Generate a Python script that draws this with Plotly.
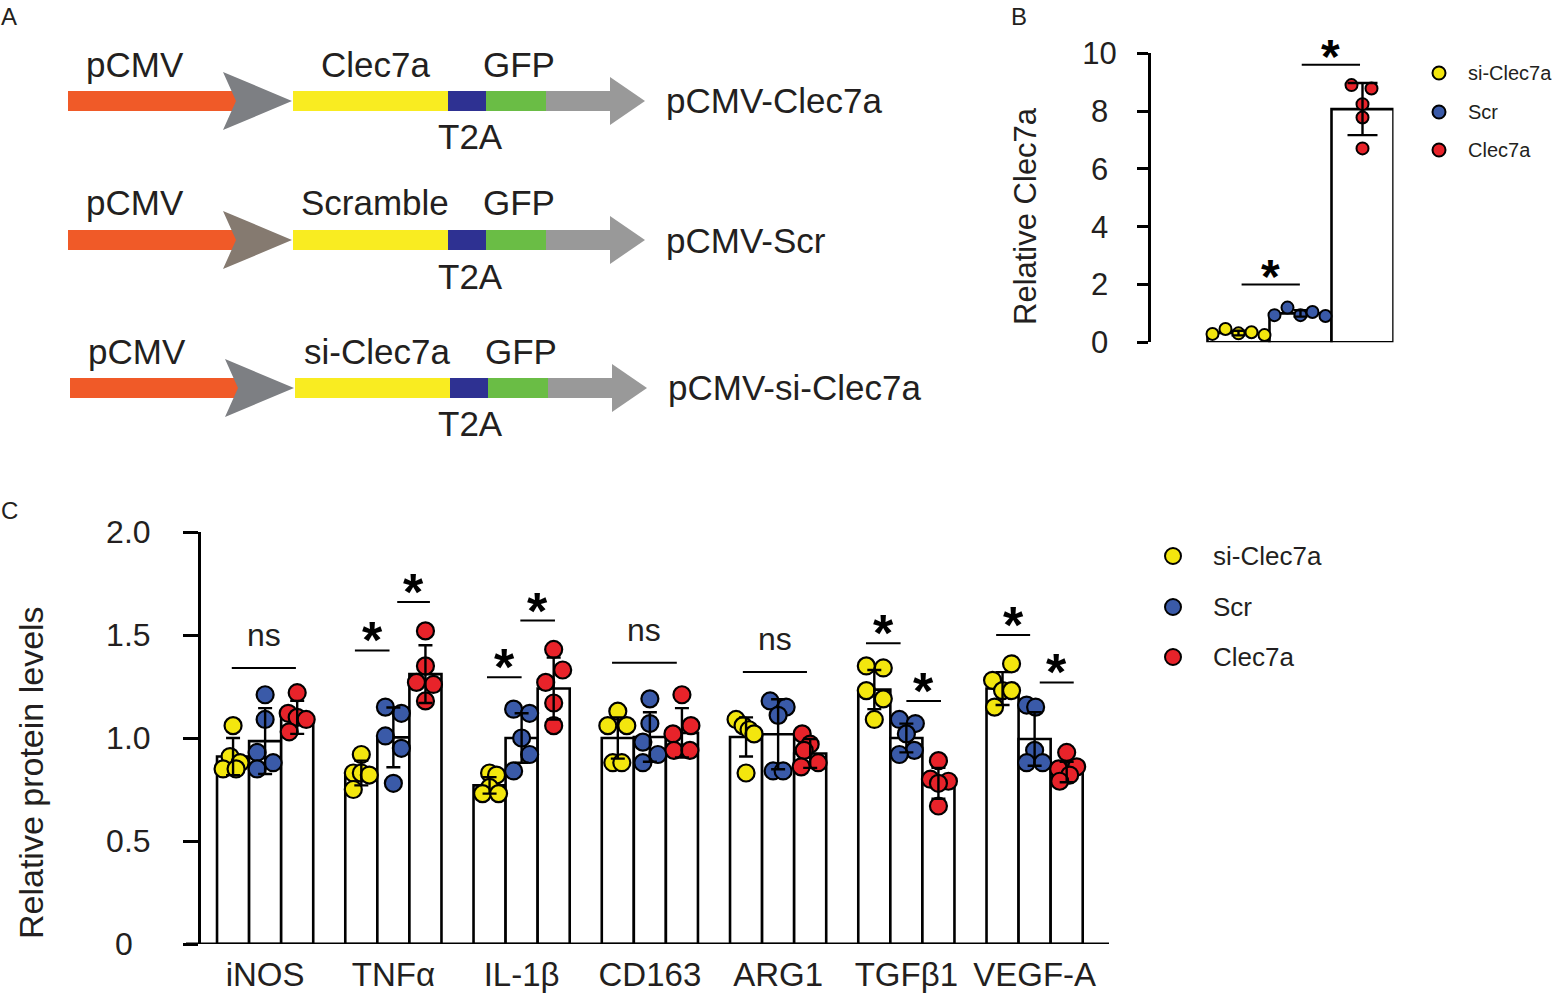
import plotly.graph_objects as go

W, H = 1554, 997
FONT = "Arial, 'Liberation Sans', Helvetica, sans-serif"

# ---------------- data ----------------
CATEGORIES = ["iNOS", "TNFα", "IL-1β", "CD163", "ARG1", "TGFβ1", "VEGF-A"]
GROUPS = ["si-Clec7a", "Scr", "Clec7a"]

# Panel C: bar means (relative protein levels)
C_MEAN_SI = [0.91, 0.83, 0.77, 1.00, 1.005, 1.235, 1.24]
C_MEAN_SCR = [0.985, 1.003, 1.0, 1.005, 1.018, 1.0, 0.995]
C_MEAN_CLEC = [1.10, 1.31, 1.24, 1.025, 0.925, 0.78, 0.835]
# Panel C: error (SD)
C_SD_SI = [0.09, 0.06, 0.04, 0.10, 0.095, 0.095, 0.08]
C_SD_SCR = [0.16, 0.145, 0.12, 0.12, 0.17, 0.07, 0.13]
C_SD_CLEC = [0.08, 0.14, 0.15, 0.12, 0.07, 0.075, 0.05]
# Panel C: individual points
C_PTS_SI = [
    [1.06, 0.91, 0.88, 0.85, 0.85],
    [0.92, 0.83, 0.83, 0.82, 0.75],
    [0.83, 0.82, 0.76, 0.73, 0.73],
    [1.13, 1.06, 1.06, 0.88, 0.88],
    [1.09, 1.06, 1.04, 1.02, 0.83],
    [1.35, 1.34, 1.23, 1.19, 1.09],
    [1.36, 1.28, 1.23, 1.23, 1.15],
]
C_PTS_SCR = [
    [1.21, 1.09, 0.93, 0.88, 0.85],
    [1.15, 1.12, 1.01, 0.95, 0.78],
    [1.14, 1.12, 1.00, 0.92, 0.84],
    [1.19, 1.07, 0.98, 0.92, 0.88],
    [1.18, 1.15, 1.11, 0.84, 0.84],
    [1.09, 1.07, 1.02, 0.94, 0.92],
    [1.16, 1.15, 0.94, 0.88, 0.88],
]
C_PTS_CLEC = [
    [1.22, 1.12, 1.10, 1.09, 1.03],
    [1.52, 1.35, 1.27, 1.26, 1.18],
    [1.43, 1.33, 1.27, 1.17, 1.06],
    [1.21, 1.06, 1.02, 0.94, 0.94],
    [1.02, 0.97, 0.94, 0.88, 0.86],
    [0.89, 0.80, 0.79, 0.78, 0.67],
    [0.93, 0.86, 0.85, 0.82, 0.79],
]
# Panel C significance: (category, left, right, level, label)
C_SIG = [
    (0, -0.26, 0.24, 1.34, "ns"),
    (1, -0.30, -0.03, 1.425, "*"),
    (1, 0.03, 0.285, 1.66, "*"),
    (2, -0.27, 0.0, 1.295, "*"),
    (2, -0.01, 0.26, 1.57, "*"),
    (3, -0.295, 0.21, 1.365, "ns"),
    (4, -0.275, 0.225, 1.32, "ns"),
    (5, -0.315, -0.045, 1.46, "*"),
    (5, 0.0, 0.27, 1.18, "*"),
    (6, -0.30, -0.035, 1.50, "*"),
    (6, 0.04, 0.305, 1.27, "*"),
]

# Panel B: relative Clec7a
B_MEAN = [0.32, 1.0, 8.07]
B_SD = [0.08, 0.11, 0.90]
B_PTS = [
    [0.29, 0.46, 0.31, 0.35, 0.25],
    [0.94, 1.20, 0.94, 1.05, 0.91],
    [8.90, 8.78, 8.24, 7.78, 6.71],
]
B_SIG = [(0.05, 0.99, 2.0, "*"), (1.02, 1.96, 9.6, "*")]

# ---------------- styling / layout positions ----------------
DOT_COLORS = ["#f3e60e", "#3a5aa8", "#e8232a"]
BW = 0.25                      # bar width in category units (panel C)
C_UNIT_PX = 128.3              # pixels per category in panel C
# horizontal jitter of points (pixels)
C_JIT_SI = [[0, -3, 7, -10, 3], [0, -8, 0, 8, -8], [0, 7, 0, -7, 9], [0, -10, 9, -5, 4],
            [-10, -3, 3, 8, 0], [-8, 9, -8, 9, 0], [9, -10, 0, 9, -8]]
C_JIT_SCR = [[0, 0, -8, 8, -8], [-8, 8, -8, 8, 0], [-8, 8, 0, 8, -8], [0, 0, -7, 8, -7],
             [-8, 8, 0, -5, 5], [-7, 9, 0, 8, -7], [-8, 1, 0, -8, 8]]
C_JIT_CLEC = [[0, -9, 0, 9, -8], [0, 0, -9, 8, 0], [0, 9, -8, 0, 0], [0, 9, -9, -8, 8],
              [-8, 0, -6, 8, -9], [0, -8, 10, 0, 0], [0, 10, -8, 3, -7]]
B_UNIT_PX = 62.0
B_JIT = [[-26, -13, 0, 13, 26], [-26, -13, 0, 12, 25], [-11, 9, 0, 0, 0]]


def px(x):
    return x / W


def py(y):
    return 1 - y / H


fig = go.Figure()

C_MEANS = [C_MEAN_SI, C_MEAN_SCR, C_MEAN_CLEC]
C_SDS = [C_SD_SI, C_SD_SCR, C_SD_CLEC]
C_PTS = [C_PTS_SI, C_PTS_SCR, C_PTS_CLEC]
C_JIT = [C_JIT_SI, C_JIT_SCR, C_JIT_CLEC]

# ---- Panel C bars
for g in range(3):
    fig.add_trace(go.Bar(
        x=[i + (g - 1) * BW for i in range(len(CATEGORIES))], y=C_MEANS[g], width=BW,
        marker=dict(color="white", line=dict(color="black", width=2.6)),
        xaxis="x", yaxis="y", showlegend=False, name=GROUPS[g]))
# ---- Panel C points
for g in range(3):
    xs, ys = [], []
    for i in range(len(CATEGORIES)):
        for v, j in zip(C_PTS[g][i], C_JIT[g][i]):
            xs.append(i + (g - 1) * BW + j / C_UNIT_PX)
            ys.append(v)
    fig.add_trace(go.Scatter(
        x=xs, y=ys, mode="markers", xaxis="x", yaxis="y", showlegend=False,
        marker=dict(size=17, color=DOT_COLORS[g], line=dict(color="black", width=2.2)),
        name=GROUPS[g]))
# ---- Panel C error bars (on top)
for g in range(3):
    fig.add_trace(go.Scatter(
        x=[i + (g - 1) * BW for i in range(len(CATEGORIES))], y=C_MEANS[g],
        mode="markers", marker=dict(size=1, color="rgba(0,0,0,0)"),
        error_y=dict(type="data", array=C_SDS[g], color="black", thickness=2.4, width=7),
        xaxis="x", yaxis="y", showlegend=False, hoverinfo="skip"))

# ---- Panel B
for g in range(3):
    fig.add_trace(go.Bar(
        x=[g], y=[B_MEAN[g]], width=1.0,
        marker=dict(color="white", line=dict(color="black", width=2.6)),
        xaxis="x2", yaxis="y2", showlegend=False, name=GROUPS[g]))
for g in range(3):
    fig.add_trace(go.Scatter(
        x=[g + j / B_UNIT_PX for j in B_JIT[g]], y=B_PTS[g], mode="markers",
        marker=dict(size=12, color=DOT_COLORS[g], line=dict(color="black", width=2)),
        xaxis="x2", yaxis="y2", showlegend=False, name=GROUPS[g]))
for g in range(3):
    fig.add_trace(go.Scatter(
        x=[g], y=[B_MEAN[g]], mode="markers", marker=dict(size=1, color="rgba(0,0,0,0)"),
        error_y=dict(type="data", array=[B_SD[g]], color="black", thickness=2.4,
                     width=15 if g == 2 else 7),
        xaxis="x2", yaxis="y2", showlegend=False, hoverinfo="skip"))

shapes = []
ann = []

# panel C baseline (extends left past the y axis)
shapes.append(dict(type="line", xref="paper", yref="y", x0=px(186), x1=px(1109), y0=0, y1=0,
                   line=dict(color="black", width=3)))


def star(x, y, xref, yref, size, shift):
    ann.append(dict(x=x, y=y, xref=xref, yref=yref, text="<b>*</b>", showarrow=False,
                    xanchor="center", yanchor="middle", yshift=shift,
                    font=dict(size=size, color="black", family=FONT)))


# significance marks, panel C
for cat, l, r, lev, lab in C_SIG:
    shapes.append(dict(type="line", xref="x", yref="y", x0=cat + l, x1=cat + r, y0=lev, y1=lev,
                       line=dict(color="black", width=2)))
    if lab == "*":
        star(cat + (l + r) / 2, lev, "x", "y", 52, 10)
    else:
        ann.append(dict(x=cat + (l + r) / 2, y=lev, xref="x", yref="y", text="ns", showarrow=False,
                        xanchor="center", yanchor="middle", yshift=33,
                        font=dict(size=32, color="#231f20", family=FONT)))
for l, r, lev, lab in B_SIG:
    shapes.append(dict(type="line", xref="x2", yref="y2", x0=l, x1=r, y0=lev, y1=lev,
                       line=dict(color="black", width=2)))
    star((l + r) / 2, lev, "x2", "y2", 48, 8)


# legends (C and B)
def legend(x_dot, ys, diam, x_text, fsize):
    for g in range(3):
        shapes.append(dict(type="circle", xref="paper", yref="paper",
                           x0=px(x_dot - diam / 2), x1=px(x_dot + diam / 2),
                           y0=py(ys[g] + diam / 2), y1=py(ys[g] - diam / 2),
                           fillcolor=DOT_COLORS[g], line=dict(color="black", width=2)))
        ann.append(dict(x=px(x_text), y=py(ys[g]), xref="paper", yref="paper", text=GROUPS[g],
                        showarrow=False, xanchor="left", yanchor="middle",
                        font=dict(size=fsize, color="#231f20", family=FONT)))


legend(1173, [556, 607, 657], 16, 1211, 26)
legend(1439, [73, 112, 150], 13, 1466, 20)


def text(x, y, s, size, anchor="center", angle=0):
    ann.append(dict(x=px(x), y=py(y), xref="paper", yref="paper", text=s, showarrow=False,
                    xanchor=anchor, yanchor="middle", textangle=angle,
                    font=dict(size=size, color="#231f20", family=FONT)))


# axis titles
text(31, 773, "Relative protein levels", 34, angle=-90)
text(1025, 216, "Relative Clec7a", 31, angle=-90)

# panel letters
for letter, x, y in [("A", 9, 16), ("B", 1019, 17), ("C", 9, 510)]:
    text(x, y, letter, 24)

# ---- Panel A: construct diagrams
ROWS = [
    dict(y=101, insert="Clec7a", name="pCMV-Clec7a", head="#7d7f83", dx=0),
    dict(y=240, insert="Scramble", name="pCMV-Scr", head="#857a70", dx=0),
    dict(y=388, insert="si-Clec7a", name="pCMV-si-Clec7a", head="#7d7f83", dx=2),
]


def rect(x0, x1, yc, hh, color):
    shapes.append(dict(type="rect", xref="paper", yref="paper", x0=px(x0), x1=px(x1),
                       y0=py(yc + hh), y1=py(yc - hh), fillcolor=color, line=dict(width=0)))


def poly(pts, color):
    path = "M " + " L ".join(f"{px(a):.5f},{py(b):.5f}" for a, b in pts) + " Z"
    shapes.append(dict(type="path", xref="paper", yref="paper", path=path, fillcolor=color,
                       line=dict(width=0)))


for r in ROWS:
    yc, d = r["y"], r["dx"]
    rect(68 + d, 238 + d, yc, 10, "#f05a28")
    poly([(223 + d, yc - 29), (292 + d, yc), (223 + d, yc + 29), (236 + d, yc)], r["head"])
    rect(293 + d, 448 + d, yc, 10, "#f9ec21")
    rect(448 + d, 486 + d, yc, 10, "#2e3192")
    rect(486 + d, 546 + d, yc, 10, "#6abd45")
    rect(546 + d, 611 + d, yc, 10, "#999999")
    poly([(610 + d, yc - 24), (645 + d, yc), (610 + d, yc + 24)], "#999999")
    text(135 + d, yc - 37, "pCMV", 35)
    text(375 + d, yc - 37, r["insert"], 35)
    text(519 + d, yc - 37, "GFP", 35)
    text(470, yc + 36, "T2A", 35)
    text(664 + d, yc, r["name"], 35, anchor="left")

fig.update_layout(
    width=W, height=H, margin=dict(l=0, r=0, t=0, b=0, pad=0, autoexpand=False), autosize=False,
    paper_bgcolor="white", plot_bgcolor="white", barmode="overlay",
    font=dict(family=FONT, color="#231f20"),
    shapes=shapes, annotations=ann, showlegend=False,
    xaxis=dict(domain=[px(201), px(1109)], range=[-0.5, 6.58], anchor="y", automargin=False,
               tickvals=list(range(len(CATEGORIES))), ticktext=CATEGORIES,
               tickfont=dict(size=33, color="#231f20"), ticks="", showline=False,
               showgrid=False, zeroline=False, ticklabelstandoff=8, fixedrange=True),
    yaxis=dict(domain=[py(944), py(532)], range=[0, 2.0], anchor="x", automargin=False,
               tickvals=[0, 0.5, 1.0, 1.5, 2.0],
               ticktext=["0\u00a0\u00a0", "0.5", "1.0", "1.5", "2.0"],
               ticks="outside", ticklen=15, tickwidth=3, tickcolor="black",
               showline=True, linewidth=3, linecolor="black", showgrid=False, zeroline=False,
               tickfont=dict(size=32, color="#231f20"), ticklabelstandoff=26, fixedrange=True),
    xaxis2=dict(domain=[px(1151), px(1393.5)], range=[-1.411, 2.5], anchor="y2",
                automargin=False, visible=False, fixedrange=True),
    yaxis2=dict(domain=[py(342.3), py(53.3)], range=[0, 10], anchor="x2", automargin=False,
                tickvals=[0, 2, 4, 6, 8, 10],
                ticktext=["0\u00a0", "2\u00a0", "4\u00a0", "6\u00a0", "8\u00a0", "10"],
                ticks="outside", ticklen=11, tickwidth=3, tickcolor="black",
                showline=True, linewidth=3, linecolor="black", showgrid=False, zeroline=False,
                tickfont=dict(size=31, color="#231f20"), ticklabelstandoff=14, fixedrange=True),
)

fig.write_html("out.html", config={"displayModeBar": False},
               post_script="document.body.style.margin='0px';")
